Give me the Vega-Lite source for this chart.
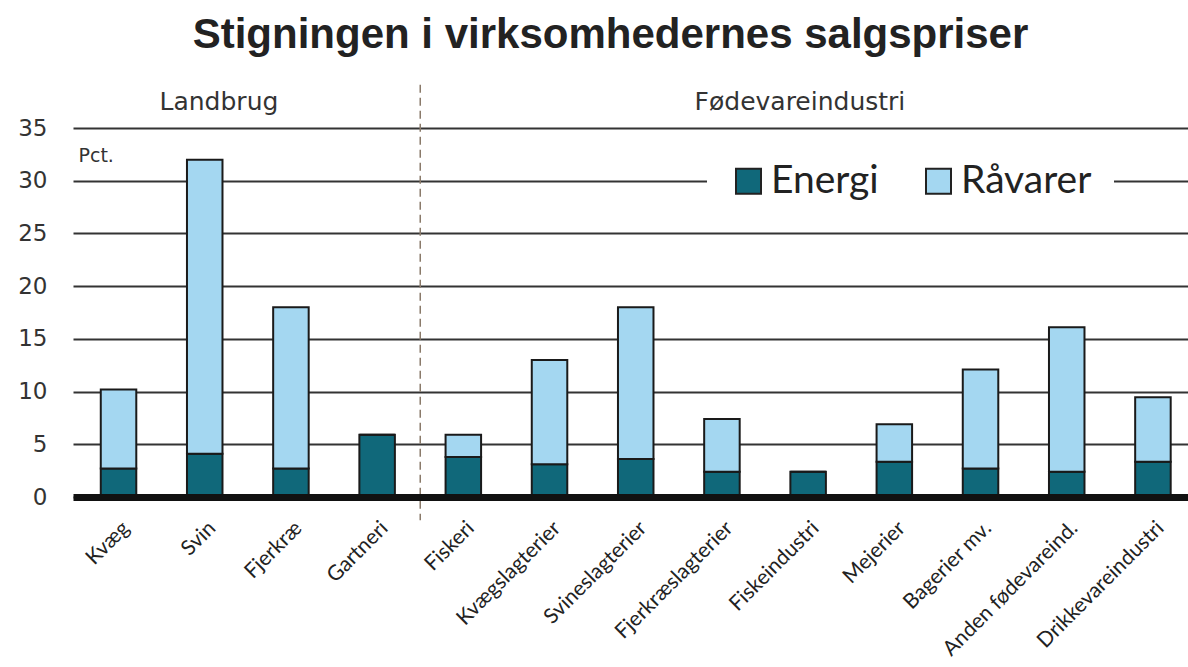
{
  "$schema": "https://vega.github.io/schema/vega-lite/v6.json",
  "width": 1115,
  "height": 369,
  "autosize": "none",
  "padding": {"left": 73, "top": 128, "right": 0, "bottom": 170},
  "background": "white",
  "title": {
    "text": "Stigningen i virksomhedernes salgspriser",
    "font": "Liberation Sans",
    "fontSize": 42,
    "fontWeight": "bold",
    "color": "#222222",
    "anchor": "middle",
    "frame": "group",
    "dx": -20,
    "offset": 27
  },
  "data": {
    "values": [
      {"cat": "Kvæg", "type": "Energi", "value": 2.7},
      {"cat": "Kvæg", "type": "Råvarer", "value": 7.5},
      {"cat": "Svin", "type": "Energi", "value": 4.1},
      {"cat": "Svin", "type": "Råvarer", "value": 27.9},
      {"cat": "Fjerkræ", "type": "Energi", "value": 2.7},
      {"cat": "Fjerkræ", "type": "Råvarer", "value": 15.3},
      {"cat": "Gartneri", "type": "Energi", "value": 5.9},
      {"cat": "Gartneri", "type": "Råvarer", "value": 0},
      {"cat": "Fiskeri", "type": "Energi", "value": 3.8},
      {"cat": "Fiskeri", "type": "Råvarer", "value": 2.1},
      {"cat": "Kvægslagterier", "type": "Energi", "value": 3.1},
      {"cat": "Kvægslagterier", "type": "Råvarer", "value": 9.9},
      {"cat": "Svineslagterier", "type": "Energi", "value": 3.6},
      {"cat": "Svineslagterier", "type": "Råvarer", "value": 14.4},
      {"cat": "Fjerkræslagterier", "type": "Energi", "value": 2.4},
      {"cat": "Fjerkræslagterier", "type": "Råvarer", "value": 5.0},
      {"cat": "Fiskeindustri", "type": "Energi", "value": 2.4},
      {"cat": "Fiskeindustri", "type": "Råvarer", "value": 0},
      {"cat": "Mejerier", "type": "Energi", "value": 3.35},
      {"cat": "Mejerier", "type": "Råvarer", "value": 3.55},
      {"cat": "Bagerier mv.", "type": "Energi", "value": 2.7},
      {"cat": "Bagerier mv.", "type": "Råvarer", "value": 9.4},
      {"cat": "Anden fødevareind.", "type": "Energi", "value": 2.4},
      {"cat": "Anden fødevareind.", "type": "Råvarer", "value": 13.7},
      {"cat": "Drikkevareindustri", "type": "Energi", "value": 3.35},
      {"cat": "Drikkevareindustri", "type": "Råvarer", "value": 6.1}
    ]
  },
  "layer": [
    {
      "mark": {"type": "bar", "stroke": "#1a1a1a", "strokeWidth": 2},
      "encoding": {
        "x": {
          "field": "cat",
          "type": "nominal",
          "sort": null,
          "scale": {"paddingInner": 0.588, "paddingOuter": 0.2615, "align": 0.616},
          "axis": {
            "title": null,
            "labelAngle": -45,
            "labelFont": "Lato",
            "labelFontSize": 21,
            "labelColor": "#222222",
            "labelLimit": 400,
            "ticks": false,
            "domainColor": "#111111",
            "domainWidth": 7,
            "labelPadding": 20,
            "zindex": 1
          }
        },
        "y": {
          "field": "value",
          "type": "quantitative",
          "stack": "zero",
          "scale": {"domain": [0, 35]},
          "axis": {
            "values": [0, 5, 10, 15, 20, 25, 30, 35],
            "title": "Pct.",
            "titleAngle": 0,
            "titleX": 5,
            "titleY": 27,
            "titleAlign": "left",
            "titleBaseline": "middle",
            "titleFont": "DejaVu Sans",
            "titleFontSize": 19,
            "titleFontWeight": "normal",
            "titleColor": "#333333",
            "domain": false,
            "ticks": false,
            "labelPadding": 26,
            "labelFont": "DejaVu Sans",
            "labelFontSize": 23,
            "labelColor": "#333333",
            "gridColor": "#333333",
            "gridWidth": 2,
            "gridOpacity": 1
          }
        },
        "color": {
          "field": "type",
          "type": "nominal",
          "scale": {"domain": ["Energi", "Råvarer"], "range": ["#10687a", "#a4d7f1"]},
          "legend": {
            "title": null,
            "orient": "none",
            "legendX": 634,
            "legendY": 11.5,
            "direction": "horizontal",
            "fillColor": "white",
            "padding": 22,
            "symbolType": "square",
            "symbolSize": 625,
            "symbolStrokeColor": "#222222",
            "symbolStrokeWidth": 2,
            "labelFont": "Lato",
            "labelFontSize": 39,
            "labelColor": "#222222",
            "labelOffset": 3,
            "columnPadding": 40
          }
        },
        "order": {"field": "type", "sort": "ascending"}
      }
    },
    {
      "data": {"values": [{}]},
      "mark": {"type": "rule", "strokeDash": [8, 5], "color": "#8a7a6a", "strokeWidth": 1.5},
      "encoding": {
        "x": {"datum": "Gartneri", "bandPosition": 1.714},
        "y": {"datum": 39.1},
        "y2": {"datum": -2.2}
      }
    },
    {
      "data": {"values": [{}]},
      "mark": {"type": "text", "font": "DejaVu Sans", "fontSize": 25, "color": "#333333", "baseline": "middle", "align": "center"},
      "encoding": {
        "x": {"datum": "Svin", "bandPosition": 0.9},
        "y": {"datum": 37.5},
        "text": {"value": "Landbrug"}
      }
    },
    {
      "data": {"values": [{}]},
      "mark": {"type": "text", "font": "DejaVu Sans", "fontSize": 25, "color": "#333333", "baseline": "middle", "align": "center"},
      "encoding": {
        "x": {"datum": "Fiskeindustri", "bandPosition": 0.27},
        "y": {"datum": 37.5},
        "text": {"value": "Fødevareindustri"}
      }
    }
  ],
  "config": {"view": {"stroke": null}}
}
